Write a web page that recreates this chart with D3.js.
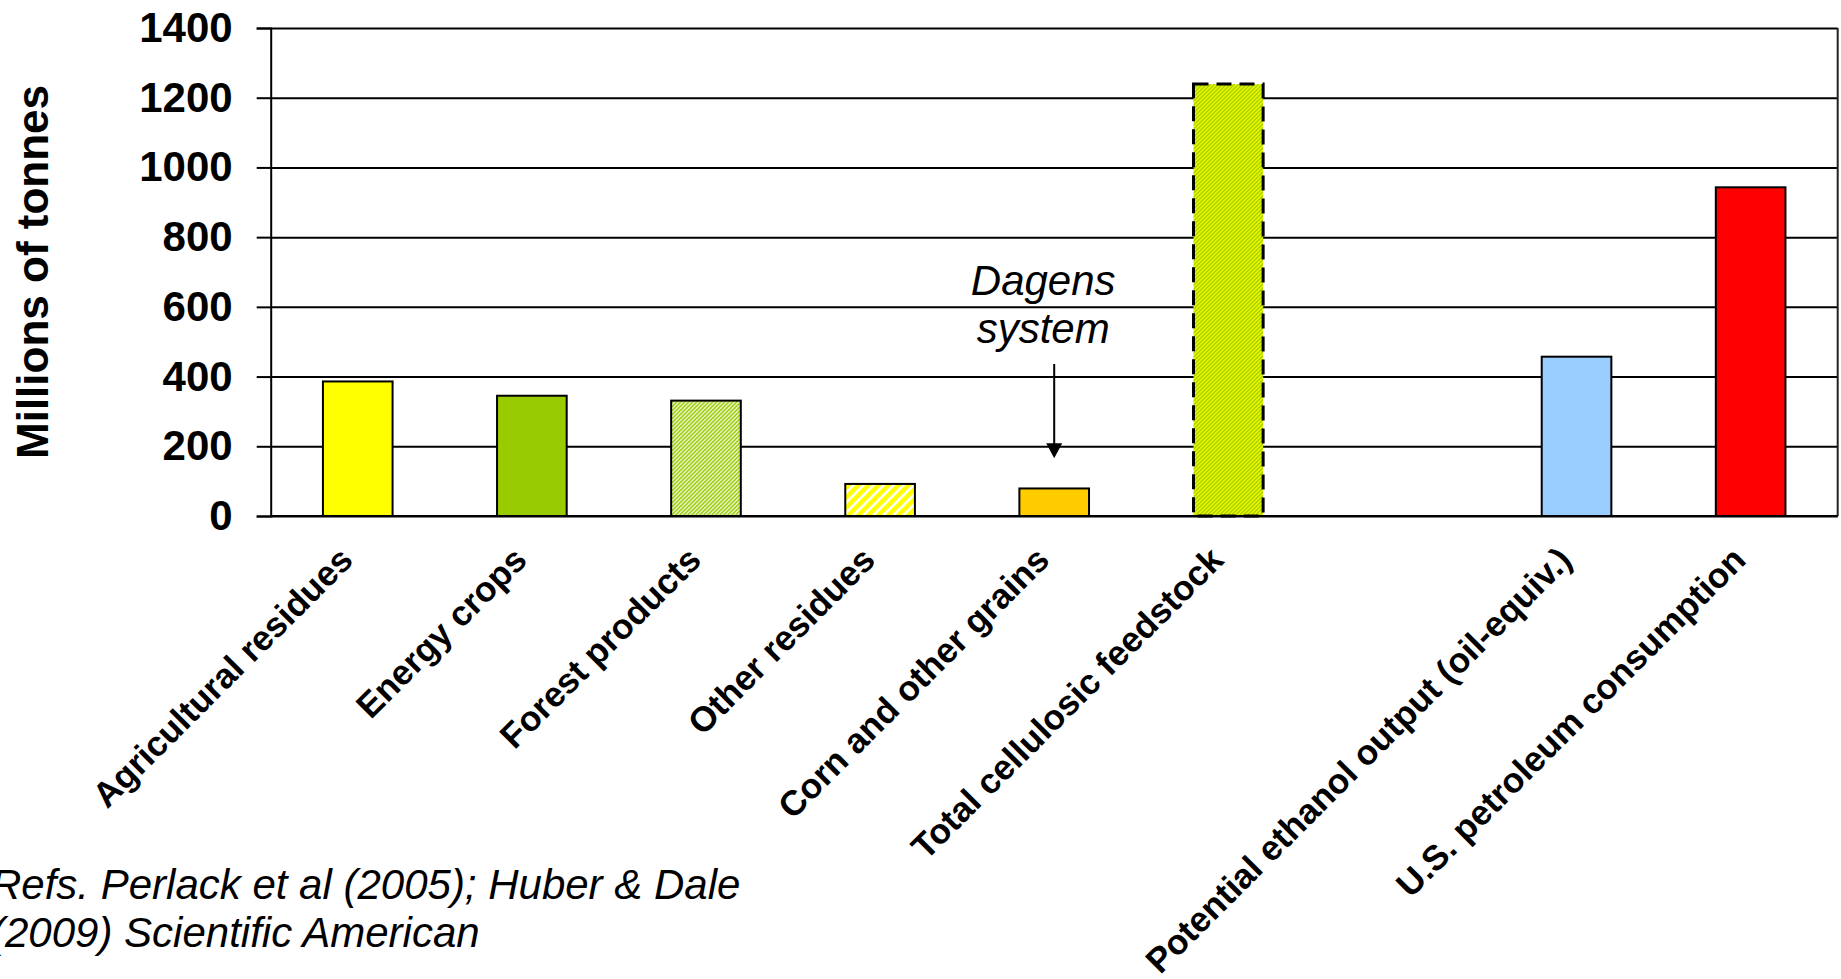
<!DOCTYPE html>
<html>
<head>
<meta charset="utf-8">
<script src="https://cdn.jsdelivr.net/npm/d3@7"></script>
<style>
  body { margin: 0; background: #fff; }
  svg { display: block; font-family: "Liberation Sans", Arial, sans-serif; }
</style>
</head>
<body>
<script>
// categories + values (millions of tonnes)
const categories = ["Agricultural residues", "Energy crops", "Forest products", "Other residues",
  "Corn and other grains", "Total cellulosic feedstock", "", "Potential ethanol output (oil-equiv.)",
  "U.S. petroleum consumption"];
const values = [386, 345, 331, 92, 79, 1239, null, 457, 943];
const fills = ["#FFFF00", "#99CC00", "url(#hatchForest)", "url(#hatchOther)", "#FFCC00",
  "url(#hatchTotal)", "none", "#99CCFF", "#FF0000"];
const yTicks = [0, 200, 400, 600, 800, 1000, 1200, 1400];
const yTitle = "Millions of tonnes";
const noteLines = ["Dagens", "system"];
const refLines = ["Refs. Perlack et al (2005); Huber & Dale", "(2009) Scientific American"];

const W = 1841, H = 979;
const margin = {left: 270.7, top: 28, right: 3.3, bottom: 463};
const width = W - margin.left - margin.right,
      height = H - margin.top - margin.bottom;

const svg = d3.select("body").append("svg")
  .attr("width", W)
  .attr("height", H);

// patterns for the hatched bars
const defs = svg.append("defs");
function hatch(id, bg, fg, size, sw) {
  const p = defs.append("pattern")
    .attr("id", id)
    .attr("patternUnits", "userSpaceOnUse")
    .attr("width", size).attr("height", size);
  p.append("rect").attr("width", size).attr("height", size).attr("fill", bg);
  p.append("path")
    .attr("d", `M${-size/2},${size/2} l${size},${-size} M0,${size} l${size},${-size} M${size/2},${size*1.5} l${size},${-size}`)
    .attr("stroke", fg)
    .attr("stroke-width", sw);
}
hatch("hatchForest", "#ffffff", "#99CC00", 4, 1.6);
hatch("hatchOther", "#FFFF00", "#ffffff", 10, 2.6);
hatch("hatchTotal", "#FFFF00", "#99CC00", 4, 1.5);

const g = svg.append("g").attr("transform", `translate(${margin.left},${margin.top})`);

const x = d3.scaleBand().domain(categories).range([0, width]).paddingInner(0.6).paddingOuter(0.3);
const y = d3.scaleLinear().domain([0, 1400]).range([height, 0]);

// grid
g.append("g")
  .call(d3.axisLeft(y).tickValues(yTicks).tickSize(-width).tickFormat(""))
  .call(s => s.select(".domain").remove())
  .selectAll("line").attr("stroke", "#000").attr("stroke-width", 2);

// right border of plot area
g.append("line")
  .attr("x1", width).attr("x2", width)
  .attr("y1", 0).attr("y2", height)
  .attr("stroke", "#222").attr("stroke-width", 2);

// bars
g.selectAll(".bar")
  .data(categories.map((c, i) => ({c: c, v: values[i], f: fills[i]})).filter(d => d.v != null))
  .enter().append("rect")
  .attr("class", "bar")
  .attr("x", d => x(d.c))
  .attr("y", d => y(d.v))
  .attr("width", x.bandwidth())
  .attr("height", d => y(0) - y(d.v))
  .attr("fill", d => d.f)
  .attr("stroke", "#000")
  .attr("stroke-width", d => d.c == "Total cellulosic feedstock" ? 3 : 2)
  .attr("stroke-dasharray", d => d.c == "Total cellulosic feedstock" ? "15,8" : null);

// y axis
const ya = g.append("g")
  .call(d3.axisLeft(y).tickValues(yTicks).tickSize(14).tickPadding(24).tickFormat(d3.format("d")));
ya.select(".domain").attr("stroke", "#000").attr("stroke-width", 2);
ya.selectAll("line").attr("stroke", "#000").attr("stroke-width", 2);
ya.selectAll("text")
  .attr("font-size", 42).attr("font-weight", "bold").attr("fill", "#000")
  .attr("font-family", "Liberation Sans, Arial, sans-serif");

// baseline
g.append("line")
  .attr("x1", 0).attr("x2", width)
  .attr("y1", y(0)).attr("y2", y(0))
  .attr("stroke", "#000").attr("stroke-width", 2);

// category labels, rotated
g.selectAll(".cat")
  .data(categories.filter(c => c != ""))
  .enter().append("text")
  .attr("class", "cat")
  .attr("transform", c => `translate(${x(c) + x.bandwidth()/2 - 3},${y(0) + 46}) rotate(-45)`)
  .attr("text-anchor", "end")
  .attr("font-size", 35)
  .attr("font-weight", "bold")
  .text(c => c);

// y title
svg.append("text")
  .attr("transform", `translate(48,${margin.top + height/2}) rotate(-90)`)
  .attr("text-anchor", "middle")
  .attr("font-size", 44)
  .attr("font-weight", "bold")
  .text(yTitle);

// "Dagens system" note + arrow to corn bar
const cx = x("Corn and other grains") + x.bandwidth()/2;
g.selectAll(".note")
  .data(noteLines)
  .enter().append("text")
  .attr("class", "note")
  .attr("x", cx - 11)
  .attr("y", (d, i) => y(635) + i * 48)
  .attr("text-anchor", "middle")
  .attr("font-size", 42)
  .attr("font-style", "italic")
  .text(d => d);
g.append("line")
  .attr("x1", cx).attr("x2", cx)
  .attr("y1", y(436)).attr("y2", y(200))
  .attr("stroke", "#000").attr("stroke-width", 2);
g.append("path")
  .attr("d", `M${cx - 8},${y(209)} L${cx + 8},${y(209)} L${cx},${y(166)} Z`)
  .attr("fill", "#000");

// reference text
svg.selectAll(".ref")
  .data(refLines)
  .enter().append("text")
  .attr("class", "ref")
  .attr("x", -9)
  .attr("y", (d, i) => 899 + i * 48)
  .attr("font-size", 42)
  .attr("font-style", "italic")
  .text(d => d);
</script>
</body>
</html>
